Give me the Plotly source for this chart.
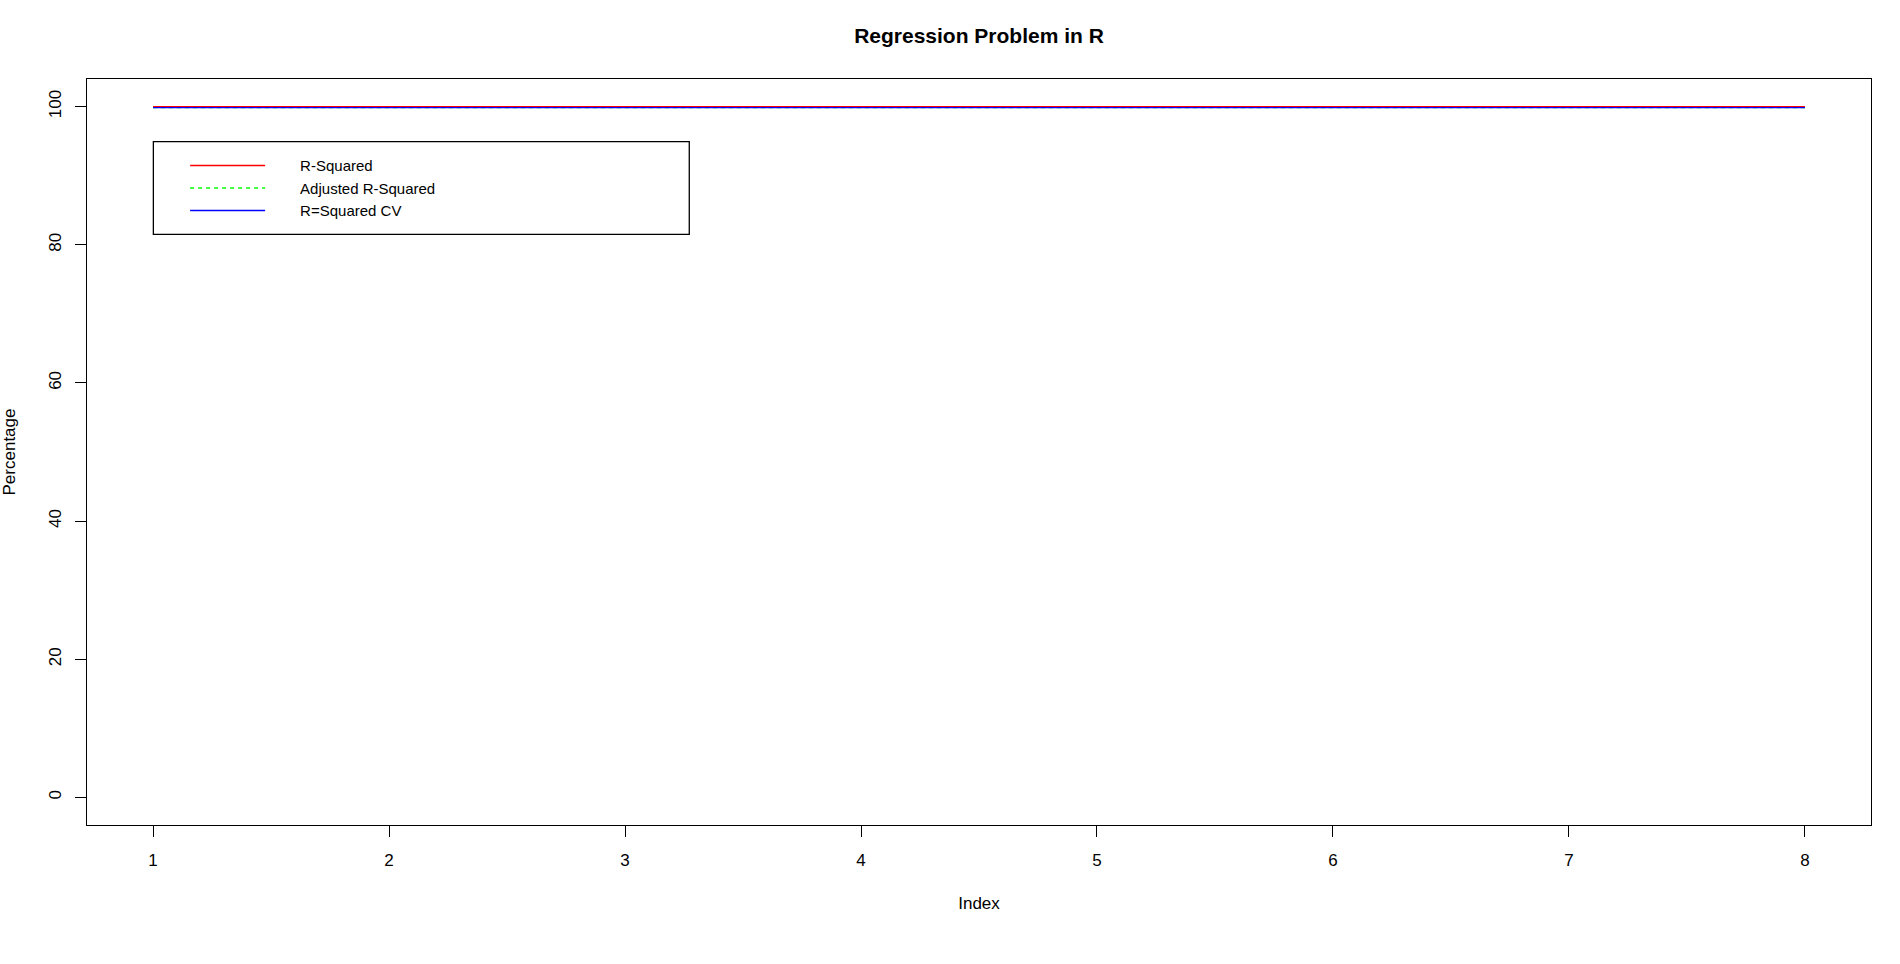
import plotly.graph_objects as go

# ---- data ----
index = [1, 2, 3, 4, 5, 6, 7, 8]
r_squared = [100.0, 100.0, 100.0, 100.0, 100.0, 100.0, 100.0, 100.0]
adj_r_squared = [99.85, 99.85, 99.85, 99.85, 99.85, 99.85, 99.85, 99.85]
r_squared_cv = [99.85, 99.85, 99.85, 99.85, 99.85, 99.85, 99.85, 99.85]
series_names = ["R-Squared", "Adjusted R-Squared", "R=Squared CV"]
x_ticks = [1, 2, 3, 4, 5, 6, 7, 8]
y_ticks = [0, 20, 40, 60, 80, 100]

FONT = "Liberation Sans, Arial, sans-serif"
GAP = "\u2003\u2003"  # visual gap between legend sample and label (R-style legend)

fig = go.Figure()
fig.add_trace(go.Scatter(x=index, y=r_squared, mode="lines", name=GAP + series_names[0],
                         line=dict(color="#FF0000", width=1.3)))
fig.add_trace(go.Scatter(x=index, y=adj_r_squared, mode="lines", name=GAP + series_names[1],
                         line=dict(color="#00FF00", width=1.3, dash="4px,4px")))
fig.add_trace(go.Scatter(x=index, y=r_squared_cv, mode="lines", name=GAP + series_names[2],
                         line=dict(color="#0000FF", width=1.3)))

fig.update_layout(
    width=1900, height=964,
    margin=dict(l=87, r=29, t=79, b=139, autoexpand=False),
    paper_bgcolor="white", plot_bgcolor="white",
    font=dict(family=FONT, color="black", size=17),
    title=dict(text="<b>Regression Problem in R</b>", xref="paper", x=0.5, xanchor="center",
               y=1 - 36 / 964, yanchor="middle", font=dict(size=21, family=FONT)),
    showlegend=True,
    legend=dict(x=0.0550, y=0.9058, xanchor="left", yanchor="top",
                bgcolor="rgba(0,0,0,0)", borderwidth=0, font=dict(size=15, family=FONT),
                itemwidth=75, tracegroupgap=0),
    shapes=[dict(type="rect", xref="paper", yref="paper", x0=0.0372, x1=0.3376,
                 y0=0.7918, y1=0.916, line=dict(color="black", width=1.3), fillcolor="rgba(0,0,0,0)")],
)
fig.update_xaxes(range=[0.72, 8.28], tickmode="array", tickvals=x_ticks,
                 showline=True, mirror=True, linecolor="black", linewidth=1.3,
                 ticks="outside", ticklen=11, tickcolor="black", tickwidth=1.3,
                 showgrid=False, zeroline=False, ticklabelstandoff=8,
                 title=dict(text="Index", standoff=28, font=dict(size=17)))
fig.update_yaxes(range=[-4, 104], tickmode="array", tickvals=y_ticks, tickangle=-90,
                 showline=True, mirror=True, linecolor="black", linewidth=1.3,
                 ticks="outside", ticklen=11, tickcolor="black", tickwidth=1.3,
                 showgrid=False, zeroline=False, ticklabelstandoff=7,
                 title=dict(text="Percentage", standoff=29, font=dict(size=17)))

fig.write_html("out.html", config={"displayModeBar": False},
               post_script="document.body.style.margin='0px';")
